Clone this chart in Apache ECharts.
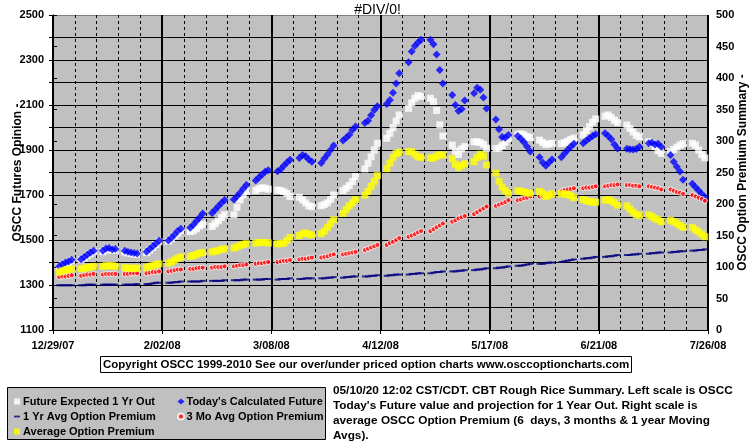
<!DOCTYPE html>
<html><head><meta charset="utf-8">
<script src="https://cdn.jsdelivr.net/npm/echarts@6/dist/echarts.min.js"></script>
<style>html,body{margin:0;padding:0;background:#fff}#c{width:755px;height:446px}</style>
</head><body><div id="c"></div>
<script>
// x axis: days since 12/29/07 (Saturday); labels every 35 days, dashed weekly lines
const xTickLabels = ['12/29/07','2/02/08','3/08/08','4/12/08','5/17/08','6/21/08','7/26/08'];
const weekdayOffsets = [2,3,4,5,6]; // Mon..Fri after each Saturday
const numWeeks = 30;

// Left scale: OSCC Futures Opinion
const futureExpected1Yr = [
 1380,1388,1396,1401,1408, 1412,1420,1430,1440,1448, 1448,1456,1460,1454,1455, 1447,1443,1440,1437,1436,
 1444,1455,1467,1480,1492, 1495,1506,1518,1530,1542, 1537,1541,1550,1562,1570, 1560,1572,1585,1600,1612,
 1612,1645,1678,1700,1716, 1720,1728,1732,1730,1726, 1722,1720,1715,1707,1693, 1690,1678,1665,1652,1648,
 1652,1658,1665,1680,1700, 1720,1730,1742,1760,1782, 1816,1841,1870,1900,1930, 1952,1974,1999,2029,2056,
 2085,2110,2130,2142,2138, 2130,2115,2076,2012,1962, 1922,1895,1880,1905,1915, 1936,1937,1933,1925,1908,
 1906,1908,1920,1935,1950, 1968,1972,1967,1960,1955, 1944,1933,1925,1927,1930, 1928,1933,1940,1947,1953,
 1967,1987,2004,2024,2038, 2050,2056,2045,2032,2022, 2011,1996,1980,1965,1958, 1937,1930,1915,1897,1885,
 1892,1902,1912,1922,1928, 1930,1922,1900,1880,1865
];
const todaysFuture = [
 1383,1392,1400,1405,1412, 1415,1425,1435,1445,1452, 1452,1462,1465,1458,1460, 1452,1448,1445,1442,1440,
 1448,1460,1472,1485,1497, 1498,1510,1525,1540,1550, 1555,1568,1585,1600,1618, 1620,1635,1650,1665,1678,
 1680,1695,1710,1728,1745, 1765,1778,1790,1803,1810, 1806,1815,1830,1845,1857, 1865,1878,1872,1858,1848,
 1842,1862,1880,1900,1920, 1942,1955,1968,1990,2005, 2020,2030,2055,2078,2095, 2105,2122,2155,2196,2241,
 2290,2338,2362,2378,2390, 2390,2370,2325,2256,2196, 2144,2100,2073,2082,2120, 2152,2177,2168,2133,2085,
 2036,1992,1958,1955,1967, 1962,1950,1935,1915,1893, 1868,1845,1830,1845,1858, 1868,1885,1900,1915,1928,
 1930,1942,1952,1962,1970, 1975,1962,1948,1925,1907, 1906,1903,1902,1905,1914, 1930,1933,1925,1928,1915,
 1878,1848,1826,1804,1768, 1750,1735,1720,1705,1690
];
// Right scale: OSCC Option Premium
const yr1AvgPremium = [
 71,71,71,71,71, 71,71,72,72,72, 72,72,72,72,72, 72,72,72,72,73,
 73,73,74,75,75, 75,75,76,76,77, 77,77,77,77,78, 78,78,78,78,79,
 79,79,79,80,80, 80,80,80,81,81, 80,81,81,81,82, 81,81,82,82,82,
 82,82,83,83,84, 83,84,84,85,85, 85,85,86,86,87, 86,87,87,88,88,
 88,89,89,90,90, 90,91,92,92,93, 93,93,94,94,95, 95,96,96,97,98,
 98,99,99,100,101, 102,102,103,104,105, 105,105,106,107,107, 108,109,110,111,112,
 113,114,114,115,116, 116,117,117,118,119, 119,119,120,120,121, 121,122,122,123,123,
 123,124,124,125,125, 126,126,127,127,128
];
const mo3AvgPremium = [
 84,85,85,86,87, 86,87,88,88,89, 88,89,89,89,89, 89,89,90,90,90,
 90,91,92,92,93, 93,94,95,96,96, 97,97,98,99,99, 99,100,100,100,101,
 101,102,103,103,104, 105,106,106,107,108, 108,109,110,110,111, 112,113,113,114,115,
 115,116,117,119,120, 120,121,122,123,124, 127,129,131,133,135, 135,138,140,143,146,
 148,150,152,155,157, 157,160,163,166,169, 172,174,177,179,181, 184,187,190,193,196,
 197,199,201,203,206, 206,207,209,210,212, 212,213,215,216,218, 220,222,223,224,225,
 225,226,226,227,228, 228,229,230,230,231, 230,230,229,229,228, 228,227,226,225,223,
 223,221,219,218,216, 214,212,210,208,205
];
const avgPremium = [
 92,94,95,96,97, 97,98,99,100,101, 101,102,102,102,101, 99,98,98,98,98,
 99,101,102,104,105, 106,108,111,114,116, 117,118,120,122,123, 124,125,126,128,129,
 130,132,134,136,137, 138,139,139,139,138, 137,137,138,142,147, 150,153,154,152,151,
 153,157,163,169,175, 185,191,197,202,207, 214,220,228,236,245, 256,265,274,280,282,
 283,283,279,275,274, 273,273,276,278,278, 272,263,258,261,264, 267,274,279,276,262,
 249,236,227,221,217, 221,220,219,218,217, 220,217,212,214,216, 216,216,215,213,210,
 207,205,204,203,203, 206,207,205,202,198, 197,192,187,183,182, 183,180,177,175,172,
 174,172,169,166,163, 163,159,156,152,148
];

const titleText = '#DIV/0!';
const copyrightText = 'Copyright OSCC 1999-2010 See our over/under priced option charts www.osccoptioncharts.com';
const noteLines = [
 '05/10/20 12:02 CST/CDT. CBT Rough Rice Summary. Left scale is OSCC',
 "Today's Future value and projection for 1 Year Out. Right scale is",
 'average OSCC Option Premium (6  days, 3 months & 1 year Moving',
 'Avgs).'
];
const names = ['Future Expected 1 Yr Out', "Today's Calculated Future", '1 Yr Avg Option Premium', '3 Mo Avg Option Premium', 'Average Option Premium'];

const days = [];
for (let w = 0; w < numWeeks; w++) for (const d of weekdayOffsets) days.push(7 * w + d);
const pairs = arr => arr.map((v, i) => [days[i], v]);

const FONT = 'Liberation Sans, Arial, sans-serif';
const chart = echarts.init(document.getElementById('c'), null, {renderer: 'canvas'});
const gridColors = [];
for (let i = 0; i < 15; i++) gridColors.push(i === 14 ? '#808080' : '#000');

chart.setOption({
  animation: false,
  backgroundColor: '#fff',
  textStyle: {fontFamily: FONT},
  title: [
    {text: titleText, left: 'center', top: -2, textStyle: {fontFamily: FONT, fontSize: 14, fontWeight: 'normal', color: '#000'}},
    {text: copyrightText, left: 100, top: 356, padding: [3, 3, 2, 3], borderColor: '#000', borderWidth: 1, backgroundColor: '#fff',
     textStyle: {fontFamily: FONT, fontSize: 11.5, fontWeight: 'bold', color: '#000'}}
  ],
  grid: {left: 53, right: 47, top: 15, bottom: 116, containLabel: false, outerBoundsMode: 'none',
         show: true, backgroundColor: '#C0C0C0', borderWidth: 0},
  legend: [
    {left: 9, top: 391, orient: 'vertical', itemWidth: 6, itemHeight: 6, itemGap: 4, selectedMode: false,
     textStyle: {fontFamily: FONT, fontSize: 11, fontWeight: 'bold', color: '#000', padding: [0,0,0,-2]},
     data: [{name: names[0], icon: 'rect'}, {name: names[2], icon: 'path://M0,0h10v3h-10z'}, {name: names[4], icon: 'rect'}]},
    {left: 172, top: 391, orient: 'vertical', itemWidth: 7, itemHeight: 6, itemGap: 4, selectedMode: false,
     textStyle: {fontFamily: FONT, fontSize: 11, fontWeight: 'bold', color: '#000', padding: [0,0,0,-3]},
     data: [{name: names[1], icon: 'diamond'}, {name: names[3], icon: 'circle'}]}
  ],
  graphic: [
    {type: 'rect', z: 0, shape: {x: 7.5, y: 387.5, width: 318, height: 52}, style: {fill: '#C0C0C0', stroke: '#000', lineWidth: 1}},
    {type: 'text', z: 5, x: 333, y: 383, style: {text: noteLines.join('\n'), font: 'bold 11.8px ' + FONT, fill: '#000', lineHeight: 15}}
  ],
  xAxis: [
    {type: 'value', min: 0, max: 210, interval: 7, position: 'bottom',
     axisLine: {show: false}, axisTick: {show: false}, axisLabel: {show: false},
     splitLine: {show: true, lineStyle: {color: '#000', width: 1, type: [3, 3]}}},
    {type: 'value', min: 0, max: 210, interval: 35, position: 'bottom',
     axisLine: {show: true, onZero: false, lineStyle: {color: '#000', width: 1}},
     axisTick: {show: true, length: 4, lineStyle: {color: '#000'}},
     axisLabel: {formatter: v => xTickLabels[Math.round(v / 35)], color: '#000', fontFamily: FONT, fontSize: 11, fontWeight: 'bold', margin: 10, showMinLabel: true, showMaxLabel: true},
     splitLine: {show: true, lineStyle: {color: '#000', width: 2}}}
  ],
  yAxis: [
    {type: 'value', min: 1100, max: 2500, interval: 100, position: 'left',
     name: 'OSCC Futures Opinion -', nameLocation: 'middle', nameRotate: 90, nameGap: 29, nameMoveOverlap: false,
     nameTextStyle: {fontFamily: FONT, fontSize: 12, fontWeight: 'bold', color: '#000'},
     axisLine: {show: true, lineStyle: {color: '#000', width: 1}},
     axisTick: {show: true, length: 4, lineStyle: {color: '#000'}},
     axisLabel: {formatter: v => ((v - 1100) % 200 === 0 ? String(v) : ''), color: '#000', fontFamily: FONT, fontSize: 11, fontWeight: 'bold', margin: 9},
     splitLine: {show: true, lineStyle: {color: gridColors, width: 1}}},
    {type: 'value', min: 0, max: 500, interval: 50, position: 'right',
     name: 'OSCC Option Premium Summary -', nameLocation: 'middle', nameRotate: 90, nameGap: 29, nameMoveOverlap: false,
     nameTextStyle: {fontFamily: FONT, fontSize: 12, fontWeight: 'bold', color: '#000'},
     axisLine: {show: true, lineStyle: {color: '#000', width: 1}},
     axisTick: {show: true, length: 4, lineStyle: {color: '#000'}},
     axisLabel: {color: '#000', fontFamily: FONT, fontSize: 11, fontWeight: 'bold', margin: 8},
     splitLine: {show: false}}
  ],
  series: [
    {name: names[0], type: 'scatter', yAxisIndex: 0, symbol: 'rect', symbolSize: 7, itemStyle: {color: '#FFFFFF'}, data: pairs(futureExpected1Yr)},
    {name: names[1], type: 'scatter', yAxisIndex: 0, symbol: 'diamond', symbolSize: 8, itemStyle: {color: '#0000FF'}, data: pairs(todaysFuture)},
    {name: names[2], type: 'scatter', yAxisIndex: 1, symbol: 'rect', symbolSize: [6, 2], itemStyle: {color: '#000080'}, data: pairs(yr1AvgPremium)},
    {name: names[3], type: 'scatter', yAxisIndex: 1, symbol: 'circle', symbolSize: 5, itemStyle: {color: '#FF0000', borderColor: '#FFFFFF', borderWidth: 1}, data: pairs(mo3AvgPremium)},
    {name: names[4], type: 'scatter', yAxisIndex: 1, symbol: 'rect', symbolSize: 7, itemStyle: {color: '#FFFF00'}, data: pairs(avgPremium)}
  ]
});
</script></body></html>
